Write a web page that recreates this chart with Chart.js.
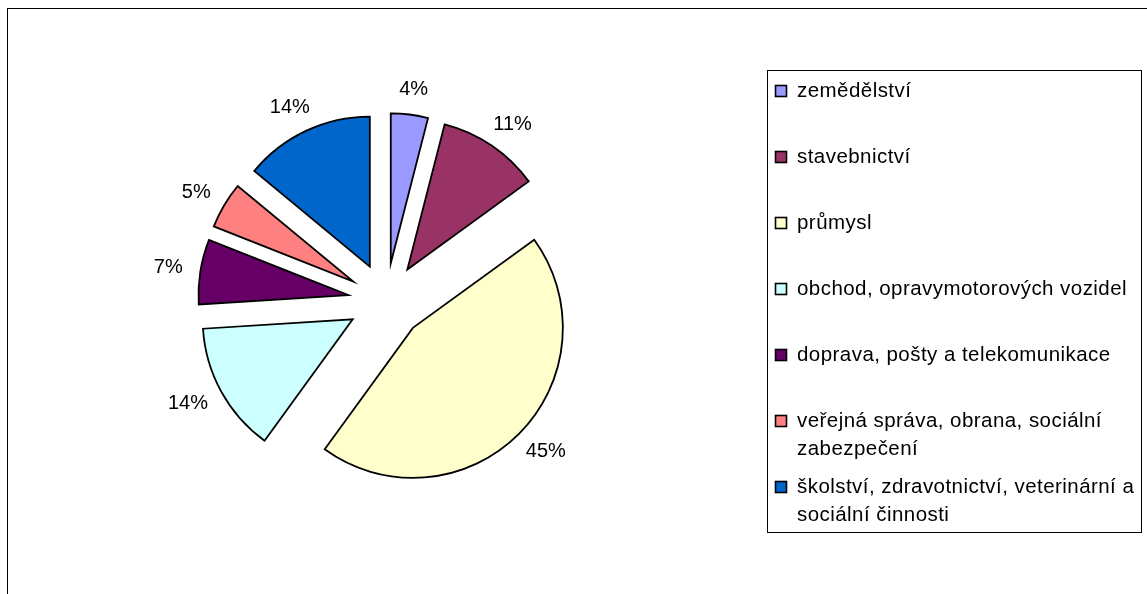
<!DOCTYPE html>
<html>
<head>
<meta charset="utf-8">
<script src="https://cdn.jsdelivr.net/npm/chart.js@4/dist/chart.umd.min.js"></script>
<style>
    html, body { margin: 0; padding: 0; background: #fff; overflow: hidden; }
    #ramecek { position: absolute; left: 7px; top: 8px; width: 1400px; height: 900px; border: 1px solid #000; }
    #canvas-container { position: absolute; left: 0; top: 0; width: 1147px; height: 594px; }
</style>
</head>
<body>
<div id="ramecek"></div>
<div id="canvas-container"><canvas id="grafKolac"></canvas></div>
<script>
// Odvětví (víceřádkové popisky jako pole)
const odvetvi = [
    'zemědělství',
    'stavebnictví',
    'průmysl',
    'obchod, opravymotorových vozidel',
    'doprava, pošty a telekomunikace',
    ['veřejná správa, obrana, sociální', 'zabezpečení'],
    ['školství, zdravotnictví, veterinární a', 'sociální činnosti']
];
// Podíl v procentech
const podily = [4, 11, 45, 14, 7, 5, 14];
const barvy = ['#9999FF', '#993366', '#FFFFCC', '#CCFFFF', '#660066', '#FF8080', '#0066CC'];

const FONT = '"Liberation Sans", Arial, sans-serif';
const ODSUNUTI = 38; // vysunutí výsečí od středu

// Vysunuté výseče bez zvětšení poloměru
const puvodniDraw = Chart.ArcElement.prototype.draw;
Chart.ArcElement.prototype.draw = function (ctx) {
    const stred = (this.startAngle + this.endAngle) / 2;
    ctx.save();
    ctx.translate(Math.cos(stred) * ODSUNUTI, Math.sin(stred) * ODSUNUTI);
    puvodniDraw.call(this, ctx);
    ctx.restore();
};

// Popisky procent vně výsečí
const popiskyProcent = {
    id: 'popiskyProcent',
    afterDatasetsDraw(chart) {
        const ctx = chart.ctx;
        const meta = chart.getDatasetMeta(0);
        ctx.save();
        ctx.font = '20px ' + FONT;
        ctx.fillStyle = '#000';
        ctx.textAlign = 'center';
        ctx.textBaseline = 'middle';
        meta.data.forEach((arc, i) => {
            const uhel = (arc.startAngle + arc.endAngle) / 2;
            const ux = Math.cos(uhel), uy = Math.sin(uhel);
            const d = arc.outerRadius + ODSUNUTI + 18;
            const text = `${podily[i]}%`;
            const w = ctx.measureText(text).width;
            const x = arc.x + ux * d + ux * w / 2;
            const y = arc.y + uy * d + uy * 7.5;
            ctx.fillText(text, x, y);
        });
        ctx.restore();
    }
};

// Legenda v rámečku vpravo
const legendaRamecek = {
    id: 'legendaRamecek',
    afterDraw(chart) {
        const ctx = chart.ctx;
        const box = { x: 767.5, y: 70.5, w: 374, h: 462 };
        ctx.save();
        ctx.strokeStyle = '#000';
        ctx.lineWidth = 1;
        ctx.strokeRect(box.x, box.y, box.w, box.h);

        ctx.font = '20.5px ' + FONT;
        if ('letterSpacing' in ctx) ctx.letterSpacing = '0.45px';
        ctx.textAlign = 'left';
        ctx.textBaseline = 'middle';
        odvetvi.forEach((nazev, i) => {
            const radky = Array.isArray(nazev) ? nazev : [nazev];
            const yRadek = 91 + i * 66;
            ctx.fillStyle = barvy[i];
            ctx.fillRect(775.5, yRadek - 5.5, 11, 11);
            ctx.lineWidth = 1.6;
            ctx.strokeStyle = '#000';
            ctx.strokeRect(775.5, yRadek - 5.5, 11, 11);
            ctx.fillStyle = '#000';
            radky.forEach((r, j) => ctx.fillText(r, 797, yRadek + j * 28));
        });
        ctx.restore();
    }
};

const ctx = document.getElementById('grafKolac').getContext('2d');
new Chart(ctx, {
    type: 'pie',
    data: {
        labels: odvetvi,
        datasets: [{
            data: podily,
            backgroundColor: barvy,
            borderColor: '#000',
            borderWidth: 1.8,
            borderJoinStyle: 'miter'
        }]
    },
    options: {
        responsive: true,
        maintainAspectRatio: false,
        animation: false,
        radius: 150,
        layout: { padding: { left: 86, right: 461, top: 8, bottom: 0 } },
        plugins: {
            legend: { display: false },
            tooltip: { enabled: false }
        }
    },
    plugins: [popiskyProcent, legendaRamecek]
});
</script>
</body>
</html>
